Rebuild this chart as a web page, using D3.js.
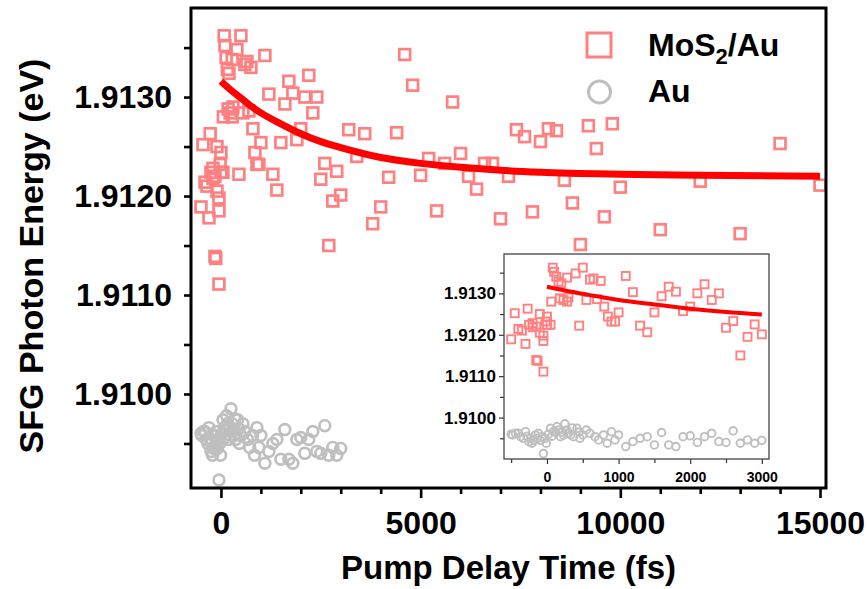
<!DOCTYPE html>
<html><head><meta charset="utf-8">
<script src="https://cdn.jsdelivr.net/npm/d3@7/dist/d3.min.js"></script>
<style>
html,body{margin:0;padding:0;background:#fff;}
text{font-family:"Liberation Sans",Arial,sans-serif;font-weight:bold;fill:#000;}
</style></head>
<body>
<svg id="chart" width="867" height="589"></svg>
<script>
// ---- data ----
const mosT = [-500,-450,-400,-350,-300,-270,-250,-200,-200,-150,-150,-130,-100,-100,-50,-50,-50,-20,0,0,
  50,60,80,100,130,160,180,200,230,280,280,300,400,450,500,550,600,650,700,750,800,850,900,950,1000,
  1100,1200,1300,1400,1500,1600,1700,1800,1900,2000,2100,2200,2300,2400,2500,2600,2700,2800,2900,3000,
  3200,3400,3600,3800,4000,4200,4400,4600,4800,5000,5200,5400,5600,5800,6000,6200,6400,6600,6800,7000,
  7200,7400,7600,7800,8000,8200,8400,8600,8800,9000,9200,9400,9600,9800,10000,11000,12000,13000,14000,15000];
const mosE = [1.91189,1.91252,1.91214,1.91210,1.91178,1.91263,1.91224,1.91218,1.91228,1.91220,1.91139,1.91137,1.91250,1.91205,1.91185,1.91198,1.91111,1.91232,1.91224,1.91244,
  1.91224,1.91280,1.91362,1.91352,1.91340,1.91328,1.91288,1.91324,1.91284,1.91280,1.91338,1.91290,1.91348,1.91222,1.91362,1.91284,1.91333,1.91336,1.91286,1.91330,1.91268,1.91244,1.91232,1.91232,1.91254,
  1.91342,1.91303,1.91222,1.91206,1.91254,1.91293,1.91316,1.91304,1.91257,1.91268,1.91300,1.91322,1.91284,1.91300,1.91217,1.91233,1.91150,1.91195,1.91225,1.91201,
  1.91267,1.91240,1.91263,1.91172,1.91189,1.91219,1.91264,1.91343,1.91312,1.91221,1.91238,1.91185,1.91233,1.91295,1.91243,1.91220,1.91207,1.91233,1.91233,1.91177,
  1.91220,1.91267,1.91260,1.91184,1.91255,1.91268,1.91266,1.91216,1.91193,1.91151,1.91271,1.91248,1.91179,1.91273,1.91209,1.91166,1.91215,1.91162,1.91253,1.91211];

const auT = [-500,-480,-440,-400,-370,-330,-300,-280,-250,-230,-210,-180,-160,-130,-120,-90,-70,-50,-30,-10,
  20,50,70,90,120,140,160,190,210,230,250,280,300,330,350,370,420,450,460,500,550,600,670,720,790,840,900,950,
  1000,1100,1200,1300,1400,1500,1600,1700,1800,1900,2000,2100,2200,2300,2400,2500,2600,2700,2800,2900,3000];
const auE = [1.90960,1.90958,1.90962,1.90962,1.90954,1.90950,1.90966,1.90955,1.90942,1.90950,1.90938,1.90945,1.90958,1.90950,1.90962,1.90945,1.90954,1.90913,1.90950,1.90938,
  1.90960,1.90974,1.90955,1.90966,1.90965,1.90978,1.90970,1.90954,1.90965,1.90958,1.90985,1.90970,1.90962,1.90958,1.90975,1.90954,1.90974,1.90965,1.90950,1.90958,1.90970,1.90962,1.90954,1.90946,1.90958,1.90938,1.90966,1.90946,
  1.90958,1.90930,1.90942,1.90950,1.90954,1.90934,1.90964,1.90934,1.90930,1.90954,1.90956,1.90940,1.90954,1.90962,1.90942,1.90940,1.90968,1.90938,1.90946,1.90938,1.90945];

const fitT = [0,250,500,750,1000,1500,2000,2500,3000,4000,5000,6000,7000,8000,10000,12000,15000];
const fitE = [1.91316,1.91307,1.91299,1.91291,1.91284,1.91273,1.91263,1.91255,1.91249,1.91239,1.91233,1.91229,1.91226,1.91224,1.91222,1.91221,1.91220];

const xTicksMain = [0,5000,10000,15000];
const yTicksMain = [1.9100,1.9110,1.9120,1.9130];
const xTicksInset = [0,1000,2000,3000];
const yTicksInset = [1.9100,1.9110,1.9120,1.9130];
const legendLabels = ["MoS", "Au"];

const sqColor = "#ff8080", ciColor = "#bfbfbf", fitColor = "#ff0000";

const svg = d3.select("#chart");
const mos = mosT.map((t,i)=>({t, e:mosE[i]}));
const au = auT.map((t,i)=>({t, e:auE[i]}));
const fit = fitT.map((t,i)=>({t, e:fitE[i]}));

// ---- main plot ----
const M = {l:191, r:826, t:8, b:488};
const x = d3.scaleLinear().domain([-750,15150]).range([M.l,M.r]);
const y = d3.scaleLinear().domain([1.90905,1.9139]).range([M.b,M.t]);

const gMain = svg.append("g");
gMain.append("g").selectAll("circle").data(au).join("circle")
  .attr("cx",d=>x(d.t)).attr("cy",d=>y(d.e)).attr("r",5.4)
  .attr("fill","none").attr("stroke",ciColor).attr("stroke-width",2.7);
gMain.append("g").selectAll("rect").data(mos).join("rect")
  .attr("x",d=>x(d.t)-5.4).attr("y",d=>y(d.e)-5.4).attr("width",10.8).attr("height",10.8)
  .attr("fill","none").attr("stroke",sqColor).attr("stroke-width",2.7);
gMain.append("path").datum(fit)
  .attr("d",d3.line().x(d=>x(d.t)).y(d=>y(d.e)).curve(d3.curveMonotoneX))
  .attr("fill","none").attr("stroke",fitColor).attr("stroke-width",7);

// axes main
const xAx = svg.append("g").attr("transform",`translate(0,${M.b})`)
  .call(d3.axisBottom(x).tickValues(xTicksMain).tickFormat(d3.format("d")).tickSize(10).tickPadding(13));
const xMinor = svg.append("g").attr("transform",`translate(0,${M.b})`)
  .call(d3.axisBottom(x).tickValues(d3.range(0,15001,1000).filter(v=>v%5000)).tickFormat("").tickSize(6));
const yAx = svg.append("g").attr("transform",`translate(${M.l},0)`)
  .call(d3.axisLeft(y).tickValues(yTicksMain).tickFormat(d3.format(".4f")).tickSize(7).tickPadding(12));
const yMinor = svg.append("g").attr("transform",`translate(${M.l},0)`)
  .call(d3.axisLeft(y).tickValues([1.9095,1.9105,1.9115,1.9125,1.9135]).tickFormat("").tickSize(7));
[xAx,xMinor,yAx,yMinor].forEach(g=>{
  g.select(".domain").remove();
  g.selectAll(".tick line").attr("stroke","#000").attr("stroke-width",2.6);
});
xAx.selectAll(".tick text").style("font-size","32px");
yAx.selectAll(".tick text").style("font-size","32px");
svg.append("rect").attr("x",M.l).attr("y",M.t).attr("width",M.r-M.l).attr("height",M.b-M.t)
  .attr("fill","none").attr("stroke","#000").attr("stroke-width",3);

// titles
svg.append("text").attr("x",(M.l+M.r)/2).attr("y",579).attr("text-anchor","middle")
  .style("font-size","33px").text("Pump Delay Time (fs)");
svg.append("text").attr("transform",`translate(43,256) rotate(-90)`).attr("text-anchor","middle")
  .style("font-size","34px").text("SFG Photon Energy (eV)");

// legend
svg.append("rect").attr("x",587).attr("y",33).attr("width",24).attr("height",24)
  .attr("fill","none").attr("stroke",sqColor).attr("stroke-width",3);
svg.append("circle").attr("cx",599.5).attr("cy",92).attr("r",11)
  .attr("fill","none").attr("stroke",ciColor).attr("stroke-width",3);
const lt = svg.append("text").attr("x",648).attr("y",56).style("font-size","32px");
lt.append("tspan").text(legendLabels[0]);
lt.append("tspan").attr("dy",8).style("font-size","22px").text("2");
lt.append("tspan").attr("dy",-8).text("/Au");
svg.append("text").attr("x",648).attr("y",102).style("font-size","32px").text(legendLabels[1]);

// ---- inset ----
const I = {l:504, r:769, t:254, b:459};
const xi = d3.scaleLinear().domain([-600,3100]).range([I.l,I.r]);
const yi = d3.scaleLinear().domain([1.9090,1.91395]).range([I.b,I.t]);
svg.append("rect").attr("x",I.l).attr("y",I.t).attr("width",I.r-I.l).attr("height",I.b-I.t).attr("fill","#fff");
svg.append("clipPath").attr("id","ic").append("rect").attr("x",I.l).attr("y",I.t).attr("width",I.r-I.l).attr("height",I.b-I.t);
const gI = svg.append("g").attr("clip-path","url(#ic)");
gI.append("g").selectAll("circle").data(au).join("circle")
  .attr("cx",d=>xi(d.t)).attr("cy",d=>yi(d.e)).attr("r",3.8)
  .attr("fill","none").attr("stroke",ciColor).attr("stroke-width",1.9);
gI.append("g").selectAll("rect").data(mos).join("rect")
  .attr("x",d=>xi(d.t)-4).attr("y",d=>yi(d.e)-4).attr("width",8).attr("height",8)
  .attr("fill","none").attr("stroke",sqColor).attr("stroke-width",1.9);
gI.append("path").datum(fit.filter(d=>d.t<=3000))
  .attr("d",d3.line().x(d=>xi(d.t)).y(d=>yi(d.e)).curve(d3.curveMonotoneX))
  .attr("fill","none").attr("stroke",fitColor).attr("stroke-width",4);

const xiAx = svg.append("g").attr("transform",`translate(0,${I.b})`)
  .call(d3.axisBottom(xi).tickValues(xTicksInset).tickFormat(d3.format("d")).tickSize(5).tickPadding(8));
const xiMinor = svg.append("g").attr("transform",`translate(0,${I.b})`)
  .call(d3.axisBottom(xi).tickValues([-500,500,1500,2500]).tickFormat("").tickSize(4));
const yiAx = svg.append("g").attr("transform",`translate(${I.l},0)`)
  .call(d3.axisLeft(yi).tickValues(yTicksInset).tickFormat(d3.format(".4f")).tickSize(5).tickPadding(3));
const yiMinor = svg.append("g").attr("transform",`translate(${I.l},0)`)
  .call(d3.axisLeft(yi).tickValues([1.9095,1.9105,1.9115,1.9125,1.9135]).tickFormat("").tickSize(4));
[xiAx,xiMinor,yiAx,yiMinor].forEach(g=>{
  g.select(".domain").remove();
  g.selectAll(".tick line").attr("stroke","#333").attr("stroke-width",1.2);
});
xiAx.selectAll(".tick text").style("font-size","14px");
yiAx.selectAll(".tick text").style("font-size","17px");
svg.append("rect").attr("x",I.l).attr("y",I.t).attr("width",I.r-I.l).attr("height",I.b-I.t)
  .attr("fill","none").attr("stroke","#444").attr("stroke-width",1.3);
</script>
</body></html>
